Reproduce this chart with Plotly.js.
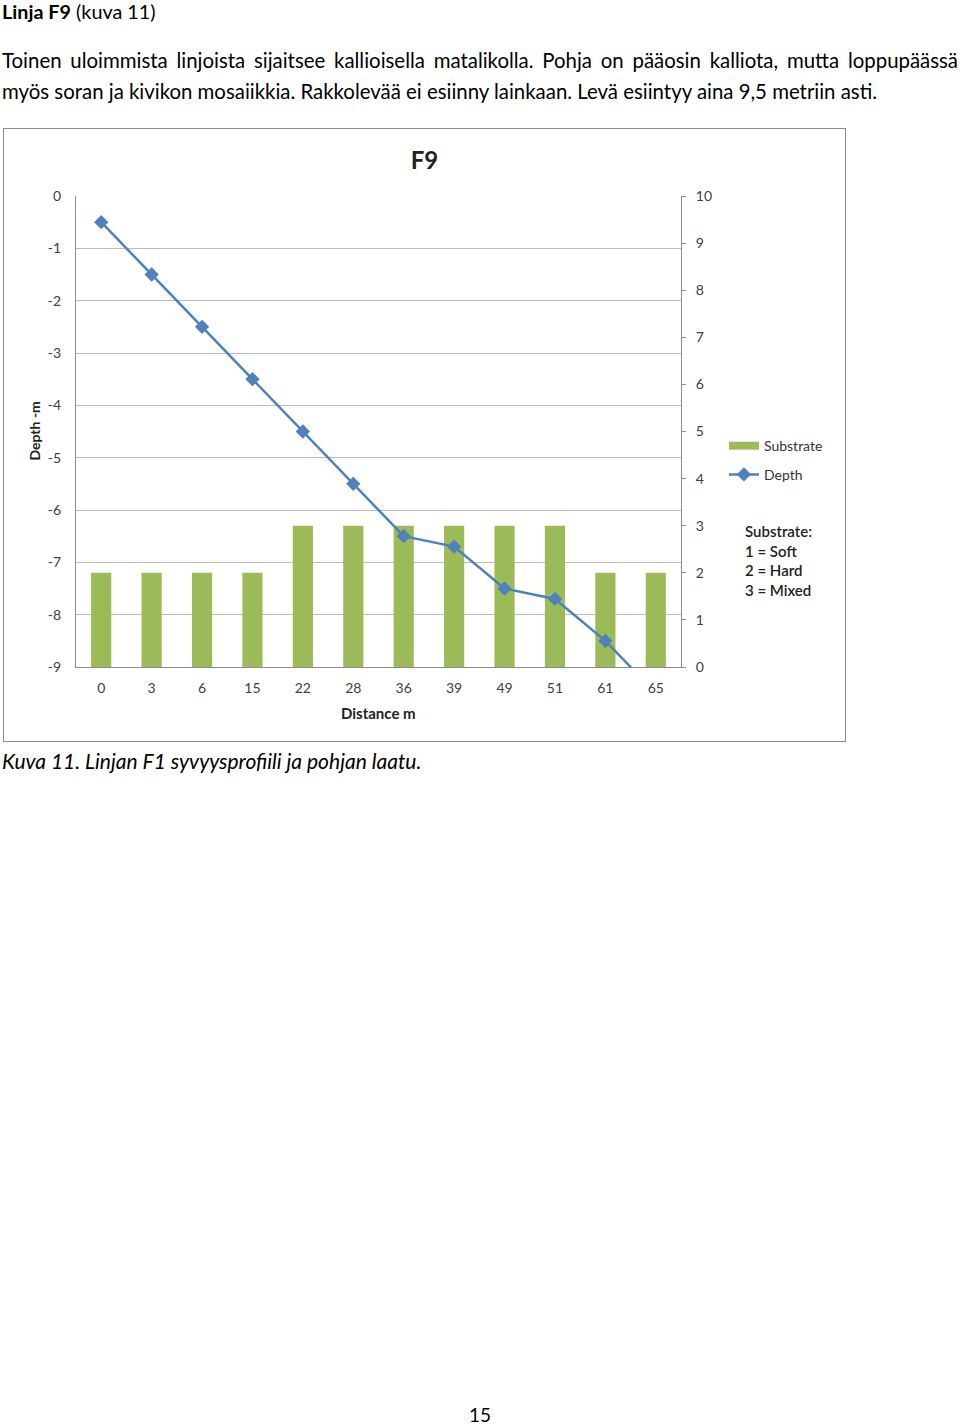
<!DOCTYPE html>
<html>
<head>
<meta charset="utf-8">
<script src="https://cdn.plot.ly/plotly-3.0.1.min.js"></script>
<style>
  html, body { margin:0; padding:0; background:#fff; }
  body { width:960px; height:1425px; position:relative; font-family: Lato, "Open Sans", sans-serif; color:#000; }
  .t { position:absolute; white-space:nowrap; font-size:20.4px; line-height:22px; }
  #wrap { position:absolute; left:3px; top:128px; width:841px; height:612px; border:1px solid #8c8c8c; }
  #chart { width:841px; height:612px; }
</style>
</head>
<body>
<div class="t" style="left:2px; top:0px; font-size:19.8px;"><b>Linja F9</b> (kuva 11)</div>
<div class="t" style="left:2px; top:49px; width:956px; text-align:justify; text-align-last:justify; white-space:normal;">Toinen uloimmista linjoista sijaitsee kallioisella matalikolla. Pohja on pääosin kalliota, mutta loppupäässä</div>
<div class="t" style="left:2px; top:80px;">myös soran ja kivikon mosaiikkia. Rakkolevää ei esiinny lainkaan. Levä esiintyy aina 9,5 metriin asti.</div>
<div id="wrap"><div id="chart"></div></div>
<div class="t" style="left:2px; top:750px; font-style:italic; font-size:21px;">Kuva 11. Linjan F1 syvyysprofiili ja pohjan laatu.</div>
<div class="t" style="left:0; width:960px; text-align:center; top:1404px; font-size:19px;">15</div>
<script>
const distances = ['0','3','6','15','22','28','36','39','49','51','61','65'];
const substrate = [2,2,2,2,3,3,3,3,3,3,2,2];
const depth = [-0.5,-1.5,-2.5,-3.5,-4.5,-5.5,-6.5,-6.7,-7.5,-7.7,-8.5,-9.5];
const depthTicks = [0,-1,-2,-3,-4,-5,-6,-7,-8,-9];
const depthTickText = ['0','-1','-2','-3','-4','-5','-6','-7','-8','-9'];
const substrateTicks = [0,1,2,3,4,5,6,7,8,9,10];

const F = 'Lato, "Open Sans", sans-serif';
const tickFont = {family:F, size:14, color:'#404040'};
const GREEN = '#9BBB59', BLUE = '#4F81BD';

const traces = [
  {type:'bar', name:'Substrate', x:distances, y:substrate, yaxis:'y',
   marker:{color:GREEN}, showlegend:false},
  {type:'scatter', mode:'lines', name:'Substrate', x:[null], y:[null], yaxis:'y',
   line:{color:GREEN, width:8}, legend:'legend', showlegend:true, hoverinfo:'skip'},
  {type:'scatter', mode:'lines+markers', name:'Depth', x:distances, y:depth, yaxis:'y2',
   line:{color:BLUE, width:2.5}, marker:{symbol:'diamond', size:11, color:BLUE}, legend:'legend2'}
];

const layout = {
  width:841, height:612,
  margin:{l:72, r:164, t:67, b:74},
  paper_bgcolor:'#fff', plot_bgcolor:'rgba(0,0,0,0)',
  font:{family:F, size:14, color:'#404040'},
  bargap:0.6,
  showlegend:true,
  title:{text:'<b>F9</b>', xref:'container', x:0.5, xanchor:'center', yref:'container', y:0.949, yanchor:'middle',
         font:{family:F, size:24, color:'#222'}},
  xaxis:{type:'category', categoryorder:'array', categoryarray:distances, range:[-0.5, 11.5],
         showline:true, linecolor:'#8c8c8c', linewidth:1, showgrid:false, ticks:'',
         tickfont:tickFont, ticklabelstandoff:8, fixedrange:true},
  yaxis:{side:'right', range:[0,10], tickvals:substrateTicks, showgrid:false, zeroline:false,
         showline:true, linecolor:'#8c8c8c', linewidth:1, ticks:'outside', ticklen:4, tickcolor:'#8c8c8c',
         tickfont:tickFont, ticklabelstandoff:7},
  yaxis2:{overlaying:'y', side:'left', anchor:'x', range:[-9,0], tickvals:depthTicks, ticktext:depthTickText,
          showgrid:true, gridcolor:'#bcbcbc', gridwidth:1, zeroline:false,
          showline:true, linecolor:'#8c8c8c', linewidth:1, ticks:'',
          tickfont:tickFont, ticklabelstandoff:11},
  legend:{x:1.071, xanchor:'left', y:0.469, yanchor:'middle', bgcolor:'rgba(0,0,0,0)',
          font:{family:F, size:14, color:'#333'}},
  legend2:{x:1.071, xanchor:'left', y:0.408, yanchor:'middle', bgcolor:'rgba(0,0,0,0)',
          font:{family:F, size:14, color:'#333'}},
  annotations:[
    {text:'<b>Depth -m</b>', xref:'paper', yref:'paper', x:-0.0694, y:0.5, textangle:-90,
     showarrow:false, xanchor:'center', yanchor:'middle', font:{family:F, size:14, color:'#222'}},
    {text:'<b>Distance m</b>', xref:'paper', yref:'paper', x:0.5, y:-0.0977,
     showarrow:false, xanchor:'center', yanchor:'middle', font:{family:F, size:15, color:'#222'}},
    {text:'Substrate:<br>1 = Soft<br>2 = Hard<br>3 = Mixed', xref:'paper', yref:'paper', x:1.103, y:0.312,
     showarrow:false, xanchor:'left', yanchor:'top', align:'left',
     font:{family:F, size:15, color:'#222', weight:600}}
  ]
};
Plotly.newPlot('chart', traces, layout, {displayModeBar:false, staticPlot:true});
</script>
</body>
</html>
